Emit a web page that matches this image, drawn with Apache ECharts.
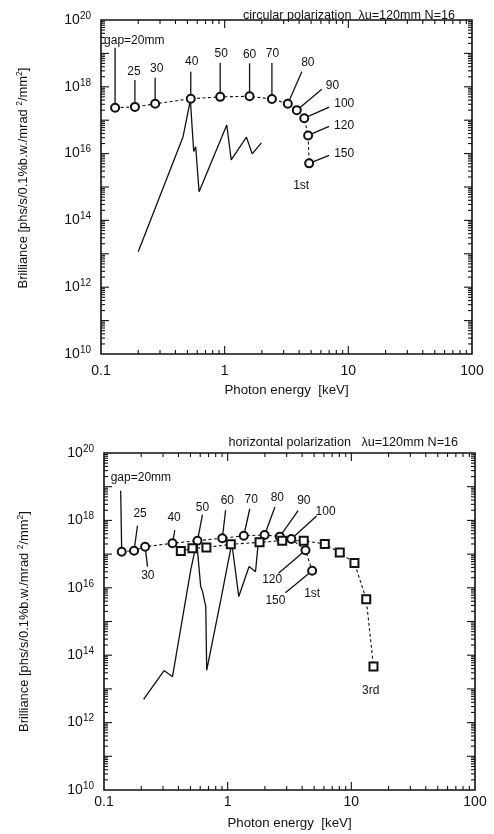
<!DOCTYPE html>
<html><head><meta charset="utf-8">
<script src="https://cdn.jsdelivr.net/npm/echarts@6/dist/echarts.min.js"></script>
<style>html,body{margin:0;padding:0;background:#fff}#c{width:494px;height:834px}</style>
</head><body><div id="c"></div>
<script>
// ---- tick labels ----
const xTickLabels = ['0.1', '1', '10', '100'];
const yTickExponents = ['10', '12', '14', '16', '18', '20'];
const xRange = [0.1, 100];
const yRange = [1e10, 1e20];

// ---- text ----
const titleTop = 'circular polarization  \u03bbu=120mm N=16';
const titleBottom = 'horizontal polarization   \u03bbu=120mm N=16';
const xName = 'Photon energy  [keV]';
const yName = 'Brilliance [phs/s/0.1%b.w./mrad {s|2}/mm{s|2}]';
const gapLabels = ['gap=20mm', '25', '30', '40', '50', '60', '70', '80', '90', '100', '120', '150'];
const harmonicLabels = ['1st', '3rd'];

// ---- top chart: circular polarization ----
const circE = [0.13, 0.188, 0.274, 0.532, 0.92, 1.59, 2.41, 3.24, 3.83, 4.4, 4.73, 4.82];
const circB = [2.35e17, 2.5e17, 3.1e17, 4.4e17, 5.0e17, 5.2e17, 4.3e17, 3.1e17, 2.0e17, 1.15e17, 3.5e16, 5.1e15];
const circCurveE = [0.2, 0.461, 0.528, 0.562, 0.583, 0.621, 1.04, 1.13, 1.50, 1.67, 1.98];
const circCurveB = [1.15e13, 3.2e16, 4.0e17, 1.15e16, 1.6e16, 7.2e14, 7.2e16, 6.5e15, 3.1e16, 9.8e15, 2.1e16];

// ---- bottom chart: horizontal polarization ----
const horE1 = [0.139, 0.175, 0.215, 0.358, 0.57, 0.905, 1.35, 1.99, 2.64, 3.27, 4.26, 4.82];
const horB1 = [1.17e17, 1.26e17, 1.66e17, 2.1e17, 2.5e17, 2.95e17, 3.5e17, 3.7e17, 3.3e17, 2.8e17, 1.3e17, 3.2e16];
const horE3 = [0.418, 0.519, 0.673, 1.06, 1.81, 2.76, 4.12, 6.1, 8.06, 10.6, 13.2, 15.1];
const horB3 = [1.23e17, 1.48e17, 1.58e17, 1.95e17, 2.24e17, 2.5e17, 2.5e17, 2.0e17, 1.12e17, 5.4e16, 4.6e15, 4.6e13];
const horCurveE = [0.209, 0.306, 0.358, 0.503, 0.562, 0.605, 0.625, 0.665, 0.677, 0.88, 1.08, 1.23, 1.49, 1.68, 1.77];
const horCurveB = [4.9e12, 3.5e13, 2.3e13, 3.4e16, 2.3e17, 1.1e16, 8e15, 2.8e15, 3.6e13, 4.4e15, 2.1e17, 5.5e15, 4.3e16, 3.0e16, 2.3e17];

// ---- annotation layout (pixel offsets from the marker) ----
const topLayout = [
  {line: [0, -60], text: [-11, -67], align: 'left'},
  {line: [0, -27], text: [-1, -35]},
  {line: [0, -26], text: [1.5, -35]},
  {line: [0, -27], text: [1, -37]},
  {line: [0, -34], text: [1, -43]},
  {line: [0, -33], text: [0, -42]},
  {line: [0, -36], text: [0.5, -45]},
  {line: [14, -32], text: [20, -41]},
  {line: [25, -21], text: [29, -24], align: 'left'},
  {line: [25, -11], text: [30, -14], align: 'left'},
  {line: [21, -9], text: [26, -10], align: 'left'},
  {line: [20, -8], text: [25, -10], align: 'left', extra: [-8, 22, 0]}
];
const bottomLayout = [
  {line: [-1, -61], text: [-11, -74], align: 'left'},
  {line: [3.4, -25], text: [6, -37]},
  {line: [2.4, 20], text: [2.7, 29]},
  {line: [2.3, -13], text: [1.6, -26]},
  {line: [5, -26], text: [5, -33]},
  {line: [3.3, -28], text: [5, -38]},
  {line: [6, -27], text: [7.4, -36]},
  {line: [10.3, -28], text: [12.7, -37]},
  {line: [18.3, -26], text: [24, -36]},
  {line: [25.3, -23], text: [34.3, -27]},
  {line: [-27, 23], text: [-33.3, 29]},
  {line: [-26.7, 22], text: [-36.7, 30], extra: [0, 23, 0]}
];
const squareLayout = horE3.map(function (e, i) {
  return i === horE3.length - 1 ? {extra: [-2.7, 24, 1]} : {};
});

const FONT = 'Liberation Sans, Arial, Helvetica, sans-serif';
const INK = '#111';

function pairs(a, b) { return a.map(function (v, i) { return [v, b[i]]; }); }

function tickSeries(gi) {
  return {
    type: 'custom', xAxisIndex: gi, yAxisIndex: gi, silent: true, z: 6,
    data: [[xRange[0], yRange[0]]],
    renderItem: function (params, api) {
      const cs = params.coordSys;
      const ch = [];
      const st = {stroke: INK, lineWidth: 1.1};
      const bottom = cs.y + cs.height, right = cs.x + cs.width;
      const x0 = Math.round(Math.log10(xRange[0])), x1 = Math.round(Math.log10(xRange[1]));
      for (let d = x0; d < x1; d++) {
        for (let m = 1; m < 10; m++) {
          if (d === x0 && m === 1) continue;
          const px = api.coord([m * Math.pow(10, d), yRange[0]])[0];
          const L = m === 1 ? 8 : 4;
          ch.push({type: 'line', shape: {x1: px, y1: bottom, x2: px, y2: bottom - L}, style: st});
          ch.push({type: 'line', shape: {x1: px, y1: cs.y, x2: px, y2: cs.y + L}, style: st});
        }
      }
      const y0 = Math.round(Math.log10(yRange[0])), y1 = Math.round(Math.log10(yRange[1]));
      for (let d = y0; d < y1; d++) {
        for (let m = 1; m < 10; m++) {
          if (d === y0 && m === 1) continue;
          const py = api.coord([xRange[0], m * Math.pow(10, d)])[1];
          const L = m === 1 ? 8 : 4;
          ch.push({type: 'line', shape: {x1: cs.x, y1: py, x2: cs.x + L, y2: py}, style: st});
          ch.push({type: 'line', shape: {x1: right, y1: py, x2: right - L, y2: py}, style: st});
        }
      }
      return {type: 'group', children: ch};
    }
  };
}

function annoSeries(gi, E, B, layout, labels) {
  return {
    type: 'custom', xAxisIndex: gi, yAxisIndex: gi, silent: true, z: 3,
    data: pairs(E, B),
    renderItem: function (params, api) {
      const i = params.dataIndex;
      const p = api.coord([api.value(0), api.value(1)]);
      const L = layout[i];
      const ch = [];
      if (L.line) {
        ch.push({type: 'line', shape: {x1: p[0], y1: p[1], x2: p[0] + L.line[0], y2: p[1] + L.line[1]},
          style: {stroke: INK, lineWidth: 1.3}});
      }
      if (L.text && labels) {
        ch.push({type: 'text', x: p[0] + L.text[0], y: p[1] + L.text[1],
          style: {text: labels[i], fill: INK, fontSize: 12, fontFamily: FONT,
            align: L.align || 'center', verticalAlign: 'middle'}});
      }
      if (L.extra) {
        ch.push({type: 'text', x: p[0] + L.extra[0], y: p[1] + L.extra[1],
          style: {text: harmonicLabels[L.extra[2]], fill: INK, fontSize: 12, fontFamily: FONT,
            align: 'center', verticalAlign: 'middle'}});
      }
      return {type: 'group', children: ch};
    }
  };
}

function markerSeries(gi, E, B, symbol) {
  return {
    type: 'line', xAxisIndex: gi, yAxisIndex: gi, silent: true, z: 5,
    data: pairs(E, B), symbol: symbol, symbolSize: 8, showSymbol: true,
    lineStyle: {color: INK, width: 1.1, type: [3, 2.5]},
    itemStyle: {color: INK, borderColor: INK, borderWidth: 1.3}
  };
}

function curveSeries(gi, E, B) {
  return {
    type: 'line', xAxisIndex: gi, yAxisIndex: gi, silent: true, z: 4,
    data: pairs(E, B), showSymbol: false, symbol: 'none',
    lineStyle: {color: INK, width: 1.3}
  };
}

function xAxis(gi, margin, nameGap) {
  return {
    gridIndex: gi, type: 'log', logBase: 10, min: xRange[0], max: xRange[1],
    axisLine: {show: false}, axisTick: {show: false}, splitLine: {show: false}, minorTick: {show: false},
    axisLabel: {
      margin: margin, fontSize: 14, color: INK, fontFamily: FONT, showMinLabel: true, showMaxLabel: true,
      formatter: function (v) {
        const t = xTickLabels.find(function (s) { return Math.abs(Math.log10(+s) - Math.log10(v)) < 1e-6; });
        return t || '';
      }
    },
    name: xName, nameLocation: 'middle', nameGap: nameGap,
    nameTextStyle: {fontSize: 13.3, color: INK, fontFamily: FONT}
  };
}

function yAxis(gi, nameGap, pad) {
  return {
    gridIndex: gi, type: 'log', logBase: 100, min: yRange[0], max: yRange[1],
    axisLine: {show: false}, axisTick: {show: false}, splitLine: {show: false}, minorTick: {show: false},
    axisLabel: {
      margin: 10, color: INK, fontFamily: FONT, showMinLabel: true, showMaxLabel: true,
      formatter: function (v) {
        const e = String(Math.round(Math.log10(v)));
        if (yTickExponents.indexOf(e) < 0) return '';
        return '{b|10}{s|' + e + '}';
      },
      rich: {
        b: {fontSize: 14, lineHeight: 18, color: INK, fontFamily: FONT},
        s: {fontSize: 10, lineHeight: 10, verticalAlign: 'top', color: INK, fontFamily: FONT}
      }
    },
    name: yName, nameLocation: 'middle', nameGap: nameGap, nameRotate: 90,
    nameTextStyle: {
      fontSize: 12.9, color: INK, fontFamily: FONT, lineHeight: 16, padding: pad,
      rich: {s: {fontSize: 8.5, lineHeight: 8, verticalAlign: 'top', color: INK, fontFamily: FONT}}
    }
  };
}

const chart = echarts.init(document.getElementById('c'), null, {renderer: 'canvas'});
chart.setOption({
  animation: false,
  backgroundColor: '#fff',
  title: [
    {text: titleTop, right: 39, top: 9, padding: 0,
      textStyle: {fontSize: 12.6, fontWeight: 'normal', color: INK, fontFamily: FONT}},
    {text: titleBottom, right: 36, top: 436, padding: 0,
      textStyle: {fontSize: 12.6, fontWeight: 'normal', color: INK, fontFamily: FONT}}
  ],
  grid: [
    {left: 101, top: 20, width: 371, height: 334, show: true, borderColor: INK, borderWidth: 1.6, backgroundColor: 'transparent'},
    {left: 104, top: 453, width: 371, height: 337, show: true, borderColor: INK, borderWidth: 1.6, backgroundColor: 'transparent'}
  ],
  xAxis: [xAxis(0, 10, 30), xAxis(1, 5, 27)],
  yAxis: [yAxis(0, 70, [0, 0, 0, 18]), yAxis(1, 72, [0, 0, 0, 0])],
  series: [
    tickSeries(0), tickSeries(1),
    curveSeries(0, circCurveE, circCurveB),
    annoSeries(0, circE, circB, topLayout, gapLabels),
    markerSeries(0, circE, circB, 'emptyCircle'),
    curveSeries(1, horCurveE, horCurveB),
    annoSeries(1, horE1, horB1, bottomLayout, gapLabels),
    annoSeries(1, horE3, horB3, squareLayout, null),
    markerSeries(1, horE1, horB1, 'emptyCircle'),
    markerSeries(1, horE3, horB3, 'emptyRect')
  ]
});
</script></body></html>
